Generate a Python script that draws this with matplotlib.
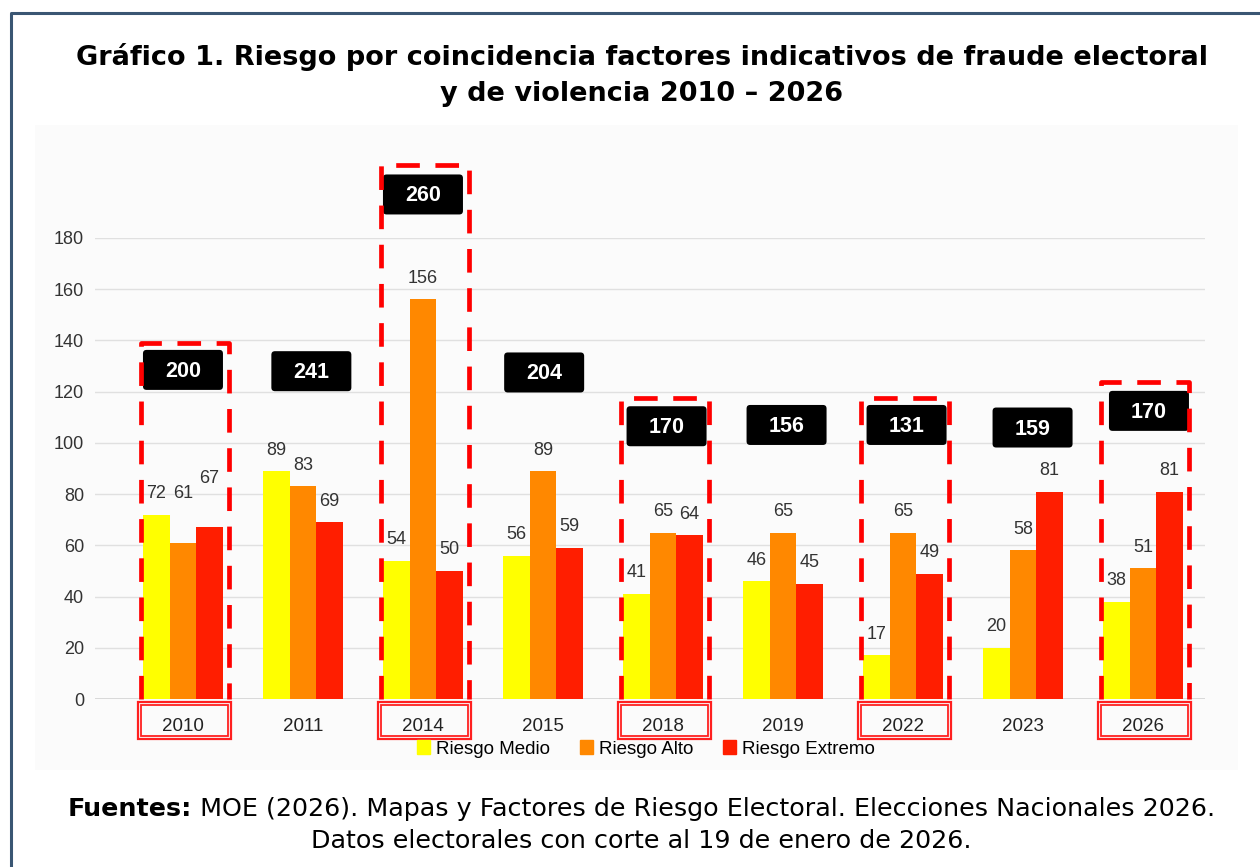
import matplotlib
matplotlib.use("Agg")
import matplotlib.pyplot as plt
from matplotlib.patches import Rectangle, FancyBboxPatch
from matplotlib.lines import Line2D
import numpy as np

# ---------------- data ----------------
years = ["2010", "2011", "2014", "2015", "2018", "2019", "2022", "2023", "2026"]
riesgo_medio = [72, 89, 54, 56, 41, 46, 17, 20, 38]
riesgo_alto = [61, 83, 156, 89, 65, 65, 65, 58, 51]
riesgo_extremo = [67, 69, 50, 59, 64, 45, 49, 81, 81]
totals = [200, 241, 260, 204, 170, 156, 131, 159, 170]
highlighted = ["2010", "2014", "2018", "2022", "2026"]
series_names = ["Riesgo Medio", "Riesgo Alto", "Riesgo Extremo"]

# ---------------- layout / style ----------------
colors = ["#FFFF00", "#FF8800", "#FF1E00"]
total_label_y = [128.5, 128, 197, 127.5, 106.5, 107, 107, 106, 112.5]
total_label_dx = [0.0, 0.07, 0.0, 0.01, 0.03, 0.03, 0.03, 0.08, 0.05]
dash_box_top = {"2010": 139, "2014": 208.5, "2018": 117.5, "2022": 117.5, "2026": 123.8}
# extra lift (px) for some value labels, (group, series)
label_lift = {(0, 1): 28, (0, 2): 28}

W, H = 1260, 867
fig = plt.figure(figsize=(W / 100, H / 100), dpi=100)
fig.patch.set_facecolor("white")

# light panel behind chart
fig.patches.append(Rectangle((35 / W, 1 - 770 / H), (1238 - 35) / W, (770 - 125) / H,
                             transform=fig.transFigure, facecolor="#FBFBFB",
                             edgecolor="none", zorder=-5))
# frame border (left and top)
fig.lines.append(Line2D([11 / W, 11 / W, 1.0], [0.0, 1 - 13 / H, 1 - 13 / H],
                        transform=fig.transFigure, color="#3A5673", lw=2.2, zorder=-4))

ax = fig.add_axes([95 / W, 1 - 699 / H, (1205 - 95) / W, (699 - 238) / H])
ax.set_facecolor("none")
x = np.arange(len(years))
bw = 0.22
px_per_unit_y = (699 - 238) / 180.0

for k, (vals, col) in enumerate(zip([riesgo_medio, riesgo_alto, riesgo_extremo], colors)):
    xs = x + (k - 1) * bw
    ax.bar(xs, vals, width=bw, color=col, zorder=3, label=series_names[k])
    for i, v in enumerate(vals):
        lift = 21 + label_lift.get((i, k), 0)
        ax.text(xs[i], v + lift / px_per_unit_y, str(v), ha="center", va="center",
                fontsize=13, color="#333333", family="Liberation Sans", zorder=5)

ax.set_xlim(-0.733, 8.517)
ax.set_ylim(0, 180)
ax.set_yticks(np.arange(0, 181, 20))
ax.set_xticks(x)
ax.set_xticklabels(years, fontsize=13.5, family="Liberation Sans", color="#222222")
ax.tick_params(axis="x", length=0, pad=14)
ax.tick_params(axis="y", length=0, pad=8, labelsize=13, labelcolor="#333333")
for lab in ax.get_yticklabels():
    lab.set_family("Liberation Sans")
ax.grid(axis="y", color="#E0E0E0", lw=1, zorder=0)
for s in ax.spines.values():
    s.set_visible(False)
ax.axhline(0, color="#D4D4D4", lw=1.2, zorder=2)

# total label boxes
ux_per_px = 1 / 120.0
uy_per_px = 1 / px_per_unit_y
bwid = 80 * ux_per_px
bhei = 40 * uy_per_px
for i, t in enumerate(totals):
    cx = x[i] + total_label_dx[i]
    cy = total_label_y[i]
    p = FancyBboxPatch((cx - bwid / 2, cy - bhei / 2), bwid, bhei,
                       boxstyle="round,pad=0,rounding_size=0.03",
                       mutation_aspect=uy_per_px / ux_per_px,
                       facecolor="black", edgecolor="none", zorder=6, clip_on=False)
    ax.add_patch(p)
    ax.text(cx, cy - 1.5 * uy_per_px, str(t), ha="center", va="center", color="white",
            fontsize=15.5, fontweight="bold", family="Liberation Sans", zorder=7, clip_on=False)

# red dashed highlight boxes + double boxes around tick labels
for yr in highlighted:
    i = years.index(yr)
    cx = x[i] + 0.015
    hw = 44 * ux_per_px
    top = dash_box_top[yr]
    ax.plot([cx - hw, cx - hw, cx + hw, cx + hw], [0, top, top, 0],
            color="#FF0000", lw=3.4, linestyle=(0, (5, 3.3)), zorder=8,
            clip_on=False, solid_capstyle="butt", dash_capstyle="butt")
    ohw = 46.5 * ux_per_px
    ax.add_patch(Rectangle((cx - ohw, -15.6), 2 * ohw, 14.4, fill=False,
                           edgecolor="#FF2020", lw=1.6, clip_on=False, zorder=8))
    ihw = 43.5 * ux_per_px
    ax.add_patch(Rectangle((cx - ihw, -14.4), 2 * ihw, 12.0, fill=False,
                           edgecolor="#FF2020", lw=1.3, clip_on=False, zorder=8))

# legend
handles = [Rectangle((0, 0), 1, 1, color=c) for c in colors]
fig.legend(handles, series_names, loc="center", bbox_to_anchor=(646 / W, 1 - 749 / H),
           ncol=3, frameon=False, handlelength=0.7, handleheight=0.7,
           handletextpad=0.3, columnspacing=1.6,
           prop={"family": "Liberation Sans", "size": 13.5})

# title
fig.text(642 / W, 1 - 57 / H, "Gráfico 1. Riesgo por coincidencia factores indicativos de fraude electoral",
         ha="center", va="center", fontsize=19.5, fontweight="bold", family="DejaVu Sans",
         color="black")
fig.text(642 / W, 1 - 94 / H, "y de violencia 2010 – 2026",
         ha="center", va="center", fontsize=19.5, fontweight="bold", family="DejaVu Sans",
         color="black")

# footer with mixed bold/regular
renderer = fig.canvas.get_renderer()
fs = 18.3
bold_part = "Fuentes:"
reg_part = " MOE (2026). Mapas y Factores de Riesgo Electoral. Elecciones Nacionales 2026."
tb = fig.text(0, 0, bold_part, fontsize=fs, fontweight="bold", family="DejaVu Sans")
tr = fig.text(0, 0, reg_part, fontsize=fs, family="DejaVu Sans")
wb = tb.get_window_extent(renderer).width
wr = tr.get_window_extent(renderer).width
start = (641 - (wb + wr) / 2) / W
y1 = 1 - 809 / H
tb.set_position((start, y1)); tb.set_va("center")
tr.set_position((start + wb / W, y1)); tr.set_va("center")
fig.text(641 / W, 1 - 841 / H, "Datos electorales con corte al 19 de enero de 2026.",
         ha="center", va="center", fontsize=fs, family="DejaVu Sans", color="black")

fig.savefig("out.png", dpi=100)
